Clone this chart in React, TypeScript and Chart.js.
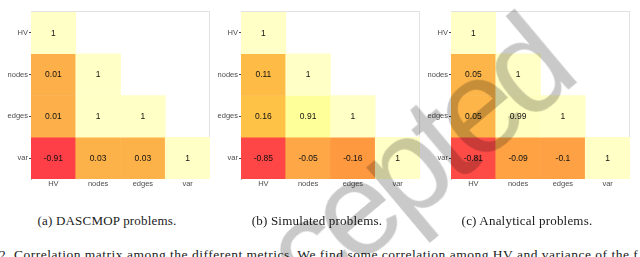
import React, { useEffect, useRef } from 'react';
import { Chart, registerables } from 'chart.js';
Chart.register(...registerables);

const metrics = ['HV', 'nodes', 'edges', 'var'];
const dascmopCorr = [[1], [0.01, 1], [0.01, 1, 1], [-0.91, 0.03, 0.03, 1]];
const simulatedCorr = [[1], [0.11, 1], [0.16, 0.91, 1], [-0.85, -0.05, -0.16, 1]];
const analyticalCorr = [[1], [0.05, 1], [0.05, 0.99, 1], [-0.81, -0.09, -0.1, 1]];
const captions = ['(a) DASCMOP problems.', '(b) Simulated problems.', '(c) Analytical problems.'];
const captionCenters = [107, 317, 527];
const bottomLine = '2.  Correlation matrix among the different metrics. We find some correlation among HV and variance of the f';

const colorStops: [number, number[]][] = [
  [-0.91, [254, 63, 71]],
  [-0.16, [255, 153, 64]],
  [0, [253, 174, 74]],
  [0.16, [254, 194, 70]],
  [0.91, [255, 255, 153]],
  [1, [255, 255, 198]],
];

function colorFor(v: number): string {
  if (v <= colorStops[0][0]) return `rgb(${colorStops[0][1].join(',')})`;
  for (let k = 1; k < colorStops.length; k++) {
    const [v1, c1] = colorStops[k];
    const [v0, c0] = colorStops[k - 1];
    if (v <= v1) {
      const t = (v - v0) / (v1 - v0);
      const c = c0.map((a, i) => Math.round(a + (c1[i] - a) * t));
      return `rgb(${c.join(',')})`;
    }
  }
  return `rgb(${colorStops[colorStops.length - 1][1].join(',')})`;
}

const FONT = '"Liberation Sans", Arial, sans-serif';

const framePlugin = {
  id: 'frame',
  beforeDatasetsDraw(chart: any) {
    const { ctx, chartArea } = chart;
    ctx.save();
    ctx.strokeStyle = '#e2e2e2';
    ctx.lineWidth = 1;
    ctx.strokeRect(chartArea.left + 0.5, chartArea.top - 0.5, chartArea.right - chartArea.left - 1, chartArea.bottom - chartArea.top);
    ctx.restore();
  },
};

const cellTextPlugin = {
  id: 'cellText',
  afterDatasetsDraw(chart: any) {
    const ctx = chart.ctx;
    ctx.save();
    ctx.font = `8.5px ${FONT}`;
    ctx.fillStyle = '#111';
    ctx.textAlign = 'center';
    ctx.textBaseline = 'middle';
    chart.data.datasets.forEach((ds: any, i: number) => {
      const meta = chart.getDatasetMeta(i);
      meta.data.forEach((el: any, j: number) => {
        const raw = ds.data[j];
        const p = el.getProps(['x', 'y', 'base'], true);
        ctx.fillText(String(raw.v), p.x, (p.y + p.base) / 2 + 0.5);
      });
    });
    ctx.restore();
  },
};

function Heatmap({ matrix, left }: { matrix: number[][]; left: number }) {
  const ref = useRef<HTMLCanvasElement>(null);
  useEffect(() => {
    if (!ref.current) return;
    const chart = new Chart(ref.current, {
      type: 'bar',
      data: {
        labels: metrics,
        datasets: matrix.map((row, i) => ({
          data: row.map((v, j) => ({ x: metrics[j], y: [i, i + 1], v })) as any,
          backgroundColor: row.map((v) => colorFor(v)),
          borderWidth: 0,
          barPercentage: 1,
          categoryPercentage: 1,
          grouped: false,
        })),
      },
      options: {
        animation: false,
        responsive: false,
        maintainAspectRatio: false,
        devicePixelRatio: 1,
        layout: { padding: { top: 12, right: 1, left: 0, bottom: 0 } },
        plugins: { legend: { display: false }, tooltip: { enabled: false } },
        scales: {
          x: {
            type: 'category',
            labels: metrics,
            offset: true,
            grid: { display: false, drawTicks: false },
            border: { display: false },
            ticks: { padding: 0, color: '#4d4d4d', font: { size: 7.5, family: FONT } },
            afterFit: (s: any) => { s.height = 12; },
          },
          y: {
            type: 'linear',
            min: 0,
            max: 4,
            reverse: true,
            afterBuildTicks: (s: any) => { s.ticks = metrics.map((_, i) => ({ value: i + 0.5 })); },
            ticks: {
              autoSkip: false,
              padding: 1,
              color: '#4d4d4d',
              font: { size: 7.5, family: FONT },
              callback: (_v: any, idx: number) => metrics[idx],
            },
            grid: { drawOnChartArea: false, drawTicks: true, tickLength: 2, color: '#444' },
            border: { display: true, color: '#b0b0b0' },
            afterFit: (s: any) => { s.width = 31; },
          },
        },
      } as any,
      plugins: [framePlugin, cellTextPlugin],
    });
    return () => chart.destroy();
  }, [matrix]);
  return (
    <canvas
      ref={ref}
      width={211}
      height={191}
      style={{ position: 'absolute', left, top: 0, width: 211, height: 191 }}
    />
  );
}

export default function App() {
  const mats = [dascmopCorr, simulatedCorr, analyticalCorr];
  return (
    <div style={{ position: 'fixed', left: 0, top: 0, width: 640, height: 257, overflow: 'hidden', background: '#fff' }}>
      {mats.map((m, k) => (
        <Heatmap key={k} matrix={m} left={210 * k} />
      ))}
      {captions.map((c, k) => (
        <div
          key={c}
          style={{
            position: 'absolute', left: captionCenters[k], top: 213, transform: 'translateX(-50%)',
            font: '13px "Liberation Serif", serif', lineHeight: '16px', color: '#1a1a1a', whiteSpace: 'nowrap',
            letterSpacing: '0.2px',
          }}
        >
          {c}
        </div>
      ))}
      <div
        style={{
          position: 'absolute', left: -1, top: 247, font: '13.5px "Liberation Serif", serif', lineHeight: '16px',
          color: '#1a1a1a', whiteSpace: 'nowrap', letterSpacing: '0.5px',
        }}
      >
        {bottomLine}
      </div>
      <div
        style={{
          position: 'absolute', left: 361, top: 204, transform: 'translate(-50%, -50%) rotate(-40deg)',
          font: `134px ${FONT}`, lineHeight: 1, letterSpacing: '-9px', color: 'rgba(0,0,0,0.21)',
          whiteSpace: 'nowrap', pointerEvents: 'none',
        }}
      >
        Accepted
      </div>
    </div>
  );
}
